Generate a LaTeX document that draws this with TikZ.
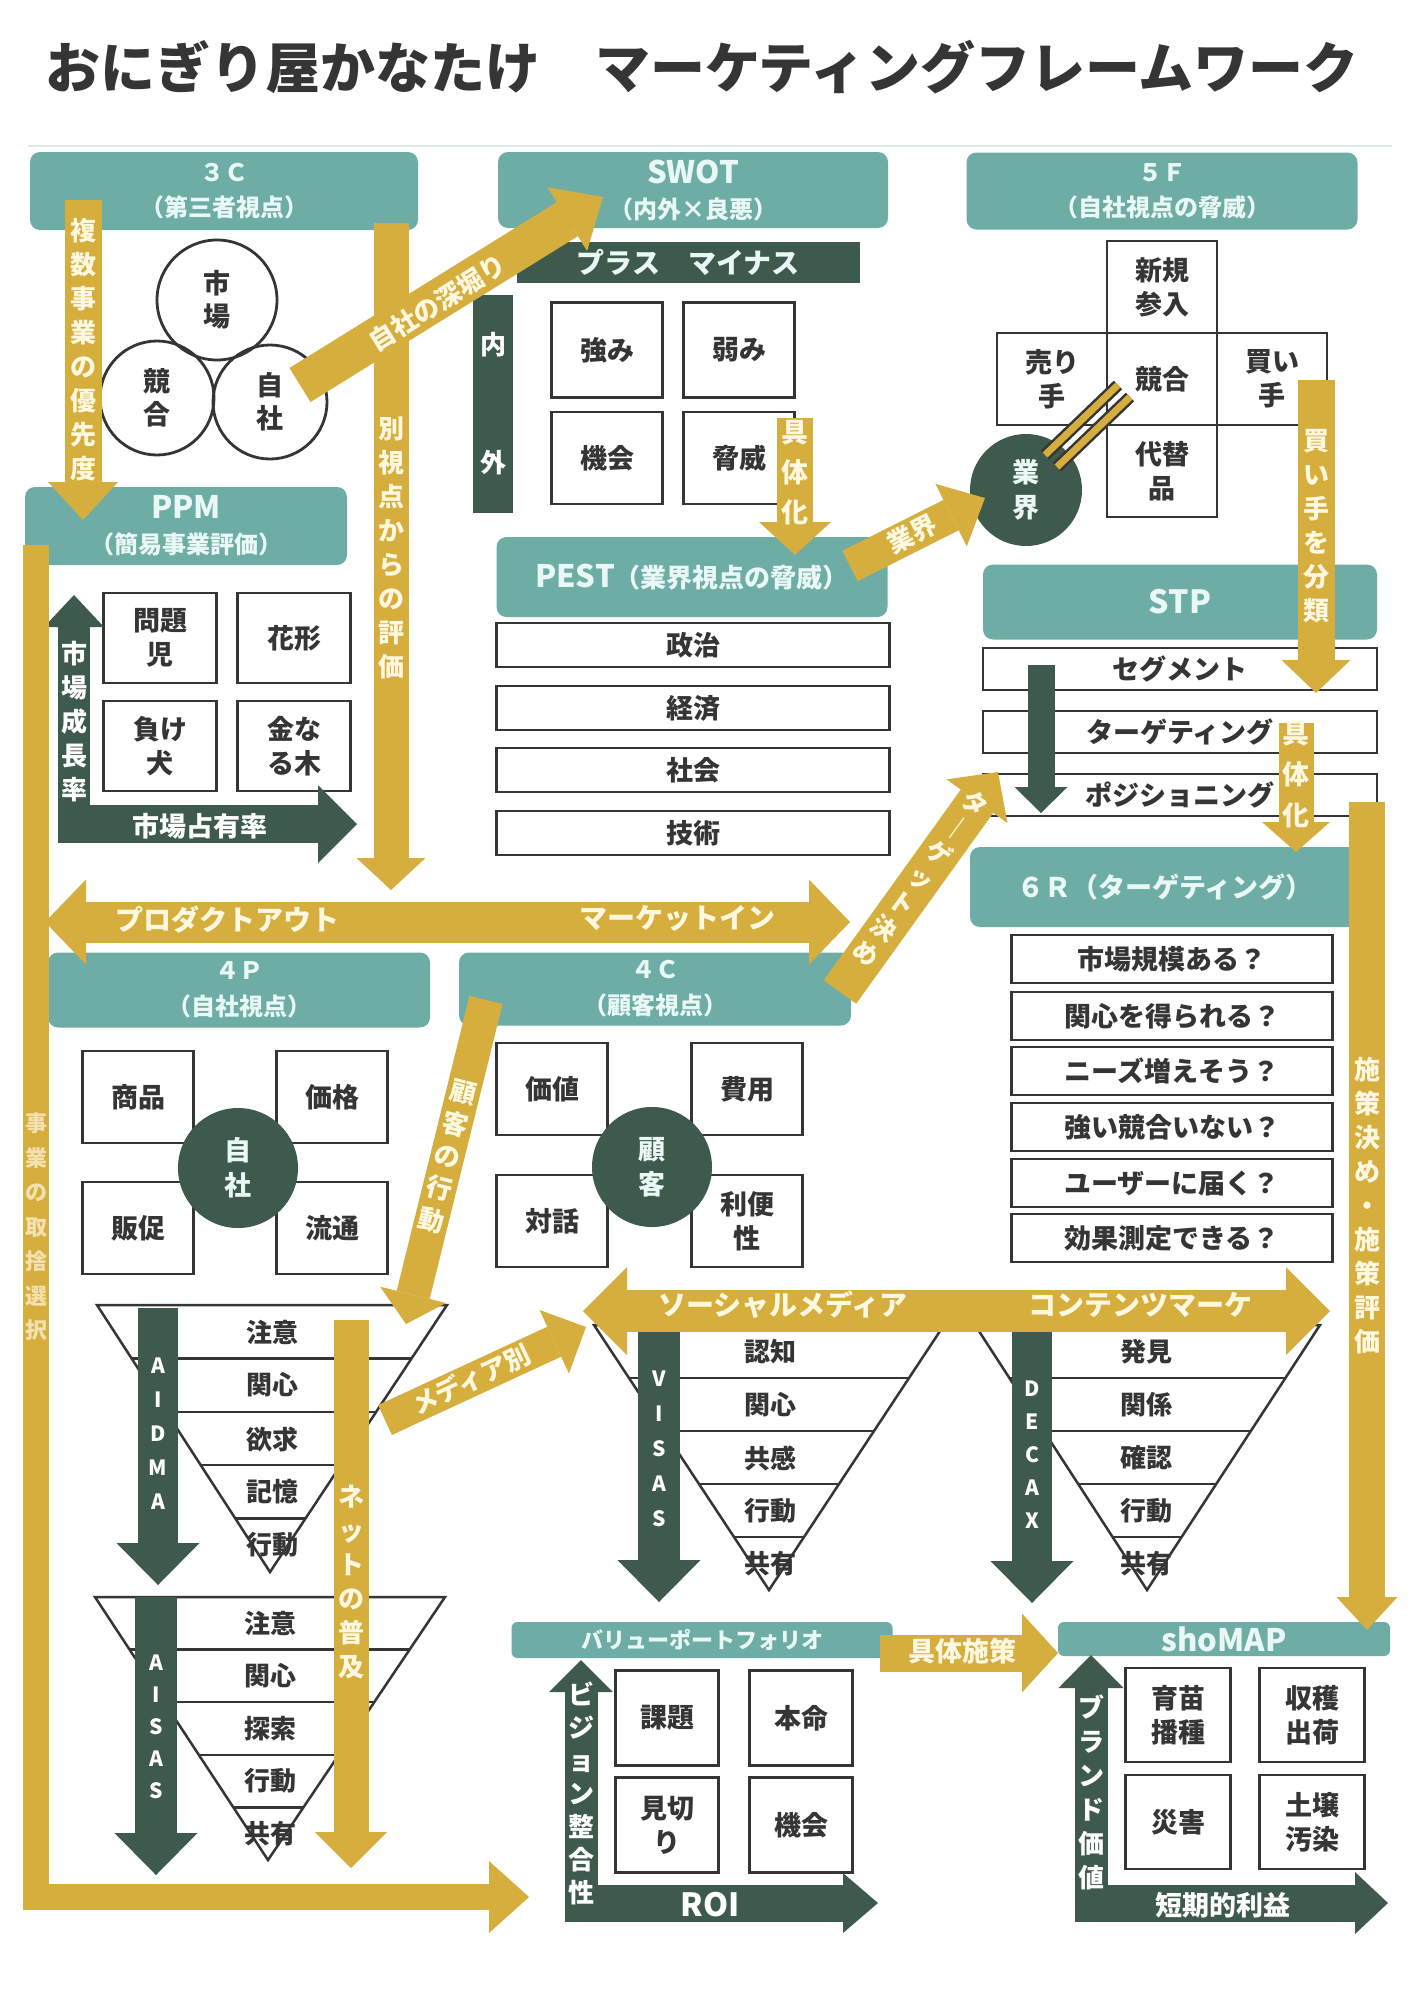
\documentclass[tikz,border=0pt]{standalone}
\usepackage{fontspec}
\setmainfont{Noto Sans CJK JP}
\usetikzlibrary{arrows.meta,calc}
\definecolor{hdrfill}{HTML}{6EADA6}
\definecolor{hdrtext}{HTML}{EAF8F5}
\definecolor{gold}{HTML}{D5AE3E}
\definecolor{goldtext}{HTML}{FFF8E1}
\definecolor{dgreen}{HTML}{3E5A4C}
\definecolor{ink}{HTML}{353535}
\newcommand\bigtag[1]{{\fontsize{31}{35}\selectfont #1}}

\begin{document}
\begin{tikzpicture}[x=1pt,y=-1pt,
	hdr/.style={fill=hdrfill, rounded corners=10pt, text=hdrtext, align=center, inner sep=0pt, font=\bfseries\fontsize{24}{35}\selectfont},
	cell/.style={draw=ink, line width=2.8pt, fill=white, align=center, inner sep=0pt, minimum width=111pt, minimum height=92pt, text=ink, font=\bfseries\fontsize{27}{34}\selectfont},
	rowbox/.style={draw=ink, line width=2.8pt, fill=white, inner sep=0pt, minimum height=44pt, text=ink, font=\bfseries\fontsize{27}{32}\selectfont},
	ring/.style={circle, draw=ink, line width=2.8pt, minimum size=114pt, inner sep=0pt, align=center, text=ink, font=\bfseries\fontsize{27}{33}\selectfont},
	hub/.style={circle, fill=dgreen, minimum size=120pt, inner sep=0pt, align=center, text=hdrtext, font=\bfseries\fontsize{27}{35}\selectfont},
	fun/.style={draw=ink, line width=2.5pt},
	flab/.style={text=ink, font=\bfseries\fontsize{26}{30}\selectfont},
	garrow/.style={draw=gold, line width=36pt, -{Triangle[width=72pt,length=36pt,line width=0pt]}},
	darrow/.style={draw=dgreen, line width=40pt, -{Triangle[width=83pt,length=42pt,line width=0pt]}},
	glab/.style={text=goldtext, align=center, inner sep=0pt, font=\bfseries\fontsize{26}{34}\selectfont},
	dlab/.style={text=white, align=center, inner sep=0pt, font=\bfseries\fontsize{26}{34}\selectfont}]

	\useasboundingbox (0,0) rectangle (1414,2000);
	\fill[white] (0,0) rectangle (1414,2000);

	% Title
	\node[text=ink, font=\bfseries\fontsize{55}{60}\selectfont] (title) at (702,67) {おにぎり屋かなたけ　マーケティングフレームワーク};
	\draw[hdrfill!25, line width=2pt] (28,146) -- (1392,146); % top rule

	% 3C
	\node[hdr, minimum width=388pt, minimum height=78pt] (h3c) at (224,191) {３Ｃ\\（第三者視点）};
	\node[ring, minimum size=120pt] (cMkt) at (217,300) {市\\場};
	\node[ring] (cRiv) at (157,398) {競\\合};
	\node[ring] (cOwn) at (270,402) {自\\社};

	% SWOT
	\node[hdr, minimum width=390pt, minimum height=76pt] (hswot) at (693,190) {\bigtag{SWOT}\\（内外×良悪）};
	\node[fill=dgreen, minimum width=343pt, minimum height=41pt, inner sep=0pt, text=hdrtext, font=\bfseries\fontsize{28}{30}\selectfont] (swPM) at (688,262) {プラス　マイナス};
	\node[fill=dgreen, minimum width=40pt, minimum height=218pt, inner sep=0pt] (swIO) at (493,404) {};
	\node[dlab] (swIn) at (493,345) {内};
	\node[dlab] (swOut) at (493,463) {外};
	\node[cell, minimum height=95pt] (swS) at (607,350) {強み};
	\node[cell, minimum height=95pt] (swW) at (739,350) {弱み};
	\node[cell] (swO) at (607,458) {機会};
	\node[cell] (swT) at (739,458) {脅威};

	% 5F
	\node[hdr, minimum width=391pt, minimum height=77pt] (h5f) at (1162,191) {５Ｆ\\（自社視点の脅威）};
	\node[cell, minimum width=110pt] (fNew) at (1162,287) {新規\\参入};
	\node[cell, minimum width=110pt] (fSup) at (1052,379) {売り\\手};
	\node[cell, minimum width=110pt] (fRiv) at (1162,379) {競合};
	\node[cell, minimum width=110pt] (fBuy) at (1272,379) {買い\\手};
	\node[cell, minimum width=110pt] (fSub) at (1162,471) {代替\\品};
	\node[hub, minimum size=112pt] (cInd) at (1026,490) {業\\界};
	\coordinate (lnkA1) at (1045,455); \coordinate (lnkB1) at (1118,385);
	\coordinate (lnkA2) at (1057,467); \coordinate (lnkB2) at (1130,397);
	\draw[ink, line width=12pt] (lnkA1) -- (lnkB1);
	\draw[gold, line width=7pt] (lnkA1) -- (lnkB1);
	\draw[ink, line width=12pt] (lnkA2) -- (lnkB2);
	\draw[gold, line width=7pt] (lnkA2) -- (lnkB2);

	% PPM
	\node[hdr, minimum width=322pt, minimum height=78pt] (hppm) at (186,526) {\bigtag{PPM}\\（簡易事業評価）};
	\node[cell, minimum width=113pt, minimum height=90pt] (mQ) at (160,638) {問題\\児};
	\node[cell, minimum width=113pt, minimum height=90pt] (mS) at (294,638) {花形};
	\node[cell, minimum width=113pt, minimum height=90pt] (mD) at (160,746) {負け\\犬};
	\node[cell, minimum width=113pt, minimum height=90pt] (mC) at (294,746) {金な\\る木};

	% PEST
	\node[hdr, minimum width=391pt, minimum height=80pt, font=\bfseries\fontsize{26}{30}\selectfont] (hpest) at (692,577) {\bigtag{PEST}（業界視点の脅威）};
	\node[rowbox, minimum width=393pt] (pPol) at (693,645) {政治};
	\node[rowbox, minimum width=393pt] (pEco) at (693,708) {経済};
	\node[rowbox, minimum width=393pt] (pSoc) at (693,770) {社会};
	\node[rowbox, minimum width=393pt] (pTec) at (693,833) {技術};

	% STP
	\node[hdr, minimum width=394pt, minimum height=75pt, font=\bfseries\fontsize{32}{34}\selectfont] (hstp) at (1180,602) {STP};
	\node[rowbox, minimum width=394pt, minimum height=42pt] (sSeg) at (1180,669) {セグメント};
	\node[rowbox, minimum width=394pt, minimum height=42pt] (sTgt) at (1180,732) {ターゲティング};
	\node[rowbox, minimum width=394pt, minimum height=42pt] (sPos) at (1180,795) {ポジショニング};

	% 6R
	\node[hdr, minimum width=390pt, minimum height=80pt, font=\bfseries\fontsize{27}{30}\selectfont] (h6r) at (1165,887) {６Ｒ（ターゲティング）};
	\node[rowbox, minimum width=321pt, minimum height=48pt] (r1) at (1172,959) {市場規模ある？};
	\node[rowbox, minimum width=321pt, minimum height=48pt] (r2) at (1172,1016) {関心を得られる？};
	\node[rowbox, minimum width=321pt, minimum height=48pt] (r3) at (1172,1071) {ニーズ増えそう？};
	\node[rowbox, minimum width=321pt, minimum height=48pt] (r4) at (1172,1127) {強い競合いない？};
	\node[rowbox, minimum width=321pt, minimum height=48pt] (r5) at (1172,1183) {ユーザーに届く？};
	\node[rowbox, minimum width=321pt, minimum height=48pt] (r6) at (1172,1238) {効果測定できる？};

	% 4P
	\node[hdr, minimum width=382pt, minimum height=75pt, font=\bfseries\fontsize{24}{36}\selectfont] (h4p) at (239,990) {４Ｐ\\（自社視点）};
	\node[cell] (pGood) at (138,1097) {商品};
	\node[cell] (pPrice) at (332,1097) {価格};
	\node[cell] (pProm) at (138,1228) {販促};
	\node[cell] (pPlace) at (332,1228) {流通};
	\node[hub] (cSelf) at (238,1168) {自\\社};

	% 4C
	\node[hdr, minimum width=392pt, minimum height=73pt, font=\bfseries\fontsize{24}{36}\selectfont] (h4c) at (655,989) {４Ｃ\\（顧客視点）};
	\node[cell] (cVal) at (552,1089) {価値};
	\node[cell] (cCost) at (747,1089) {費用};
	\node[cell] (cComm) at (552,1221) {対話};
	\node[cell] (cConv) at (747,1221) {利便\\性};
	\node[hub] (cCust) at (652,1167) {顧\\客};

	% Funnels
	\coordinate (aTL) at (97,1305); \coordinate (aTR) at (447,1305); \coordinate (aAp) at (270,1572);
	\draw[fun] (aTL) -- (aTR) -- (aAp) -- cycle;
	\foreach \f in {0.2,0.4,0.6,0.8} \draw[fun] ($(aTL)!\f!(aAp)$) -- ($(aTR)!\f!(aAp)$);
	\node[flab] (aL1) at (272,1332) {注意};
	\node[flab] (aL2) at (272,1385) {関心};
	\node[flab] (aL3) at (272,1439) {欲求};
	\node[flab] (aL4) at (272,1492) {記憶};
	\node[flab] (aL5) at (272,1545) {行動};

	\coordinate (bTL) at (95,1597); \coordinate (bTR) at (445,1597); \coordinate (bAp) at (268,1860);
	\draw[fun] (bTL) -- (bTR) -- (bAp) -- cycle;
	\foreach \f in {0.2,0.4,0.6,0.8} \draw[fun] ($(bTL)!\f!(bAp)$) -- ($(bTR)!\f!(bAp)$);
	\node[flab] (bL1) at (270,1623) {注意};
	\node[flab] (bL2) at (270,1676) {関心};
	\node[flab] (bL3) at (270,1729) {探索};
	\node[flab] (bL4) at (270,1781) {行動};
	\node[flab] (bL5) at (270,1834) {共有};

	\coordinate (vTL) at (594,1325); \coordinate (vTR) at (944,1325); \coordinate (vAp) at (769,1590);
	\draw[fun] (vTL) -- (vTR) -- (vAp) -- cycle;
	\foreach \f in {0.2,0.4,0.6,0.8} \draw[fun] ($(vTL)!\f!(vAp)$) -- ($(vTR)!\f!(vAp)$);
	\node[flab] (vL1) at (770,1352) {認知};
	\node[flab] (vL2) at (770,1405) {関心};
	\node[flab] (vL3) at (770,1458) {共感};
	\node[flab] (vL4) at (770,1511) {行動};
	\node[flab] (vL5) at (770,1564) {共有};

	\coordinate (dTL) at (975,1325); \coordinate (dTR) at (1320,1325); \coordinate (dAp) at (1147,1590);
	\draw[fun] (dTL) -- (dTR) -- (dAp) -- cycle;
	\foreach \f in {0.2,0.4,0.6,0.8} \draw[fun] ($(dTL)!\f!(dAp)$) -- ($(dTR)!\f!(dAp)$);
	\node[flab] (dL1) at (1146,1352) {発見};
	\node[flab] (dL2) at (1146,1405) {関係};
	\node[flab] (dL3) at (1146,1458) {確認};
	\node[flab] (dL4) at (1146,1511) {行動};
	\node[flab] (dL5) at (1146,1564) {共有};

	% Value portfolio and shoMAP
	\node[hdr, rounded corners=6pt, minimum width=381pt, minimum height=36pt, font=\bfseries\fontsize{22}{24}\selectfont] (hvp) at (702,1640) {バリューポートフォリオ};
	\node[cell, minimum width=103pt, minimum height=95pt] (vIss) at (667,1718) {課題};
	\node[cell, minimum width=103pt, minimum height=95pt] (vMain) at (801,1718) {本命};
	\node[cell, minimum width=103pt, minimum height=95pt] (vCut) at (667,1825) {見切\\り};
	\node[cell, minimum width=103pt, minimum height=95pt] (vOpp) at (801,1825) {機会};

	\node[hdr, rounded corners=6pt, minimum width=332pt, minimum height=34pt, font=\bfseries\fontsize{31}{32}\selectfont] (hsho) at (1224,1639) {shoMAP};
	\node[cell, minimum width=105pt, minimum height=94pt] (smSeed) at (1178,1715) {育苗\\播種};
	\node[cell, minimum width=105pt, minimum height=94pt] (smHarv) at (1312,1715) {収穫\\出荷};
	\node[cell, minimum width=105pt, minimum height=94pt] (smDis) at (1178,1822) {災害};
	\node[cell, minimum width=105pt, minimum height=94pt] (smSoil) at (1312,1822) {土壌\\汚染};

	% Dark arrows
	\coordinate (ppmO) at (74,843); \coordinate (ppmY) at (74,595);
	\coordinate (ppmO2) at (58,824); \coordinate (ppmX) at (357,824);
	\draw[darrow, line width=32pt, -{Triangle[width=60pt,length=32pt,line width=0pt]}] (ppmO) -- (ppmY);
	\draw[darrow, line width=38pt, -{Triangle[width=78pt,length=39pt,line width=0pt]}] (ppmO2) -- (ppmX);
	\node[dlab] (ppmYt) at (74,722) {市\\場\\成\\長\\率};
	\node[dlab, font=\bfseries\fontsize{27}{30}\selectfont] (ppmXt) at (200,826) {市場占有率};

	\coordinate (stpA) at (1041,665); \coordinate (stpB) at (1041,813);
	\draw[darrow, line width=27pt, -{Triangle[width=53pt,length=26pt,line width=0pt]}] (stpA) -- (stpB);

	\coordinate (aidA) at (158,1308); \coordinate (aidB) at (158,1585);
	\draw[darrow] (aidA) -- (aidB);
	\node[dlab, font=\bfseries\fontsize{21}{34}\selectfont] (aidT) at (158,1434) {A\\I\\D\\M\\A};
	\coordinate (aisA) at (156,1597); \coordinate (aisB) at (156,1875);
	\draw[darrow, line width=42pt] (aisA) -- (aisB);
	\node[dlab, font=\bfseries\fontsize{21}{32}\selectfont] (aisT) at (156,1727) {A\\I\\S\\A\\S};
	\coordinate (visA) at (659,1330); \coordinate (visB) at (659,1602);
	\draw[darrow, line width=42pt] (visA) -- (visB);
	\node[dlab, font=\bfseries\fontsize{21}{35}\selectfont] (visT) at (659,1449) {V\\I\\S\\A\\S};
	\coordinate (decA) at (1032,1330); \coordinate (decB) at (1032,1603);
	\draw[darrow] (decA) -- (decB);
	\node[dlab, font=\bfseries\fontsize{21}{33}\selectfont] (decT) at (1032,1455) {D\\E\\C\\A\\X};

	\coordinate (vpO) at (581,1922); \coordinate (vpY) at (581,1660);
	\coordinate (vpO2) at (565,1903); \coordinate (vpX) at (878,1903);
	\draw[darrow, line width=33pt, -{Triangle[width=64pt,length=32pt,line width=0pt]}] (vpO) -- (vpY);
	\draw[darrow, line width=37pt, -{Triangle[width=60pt,length=35pt,line width=0pt]}] (vpO2) -- (vpX);
	\node[dlab, font=\bfseries\fontsize{26}{33}\selectfont] (vpYt) at (581,1793) {ビ\\ジ\\ョ\\ン\\整\\合\\性};
	\node[dlab, font=\bfseries\fontsize{32}{34}\selectfont] (vpXt) at (710,1905) {ROI};

	\coordinate (smO) at (1091,1922); \coordinate (smY) at (1091,1655);
	\coordinate (smO2) at (1075,1903); \coordinate (smX) at (1388,1903);
	\draw[darrow, line width=33pt, -{Triangle[width=65pt,length=33pt,line width=0pt]}] (smO) -- (smY);
	\draw[darrow, line width=37pt, -{Triangle[width=62pt,length=33pt,line width=0pt]}] (smO2) -- (smX);
	\node[dlab] (smYt) at (1091,1792) {ブ\\ラ\\ン\\ド\\価\\値};
	\node[dlab, font=\bfseries\fontsize{27}{30}\selectfont] (smXt) at (1223,1905) {短期的利益};

	% Gold arrows
	\coordinate (g1a) at (83,200); \coordinate (g1b) at (83,520);
	\draw[garrow, line width=37pt, -{Triangle[width=70pt,length=38pt,line width=0pt]}] (g1a) -- (g1b);
	\node[glab] (g1t) at (83,350) {複\\数\\事\\業\\の\\優\\先\\度};

	\coordinate (g2a) at (391,223); \coordinate (g2b) at (391,890);
	\draw[garrow, line width=35pt, -{Triangle[width=69pt,length=32pt,line width=0pt]}] (g2a) -- (g2b);
	\node[glab] (g2t) at (391,548) {別\\視\\点\\か\\ら\\の\\評\\価};

	\coordinate (g3a) at (300,385); \coordinate (g3b) at (603,197);
	\draw[garrow, line width=40pt, -{Triangle[width=75pt,length=42pt,line width=0pt]}] (g3a) -- (g3b);
	\node[glab, rotate=32] (g3t) at (437,303) {自社の深堀り};

	\coordinate (g4a) at (795,418); \coordinate (g4b) at (795,555);
	\draw[garrow, line width=36pt, -{Triangle[width=72pt,length=33pt,line width=0pt]}] (g4a) -- (g4b);
	\node[glab, font=\bfseries\fontsize{27}{40}\selectfont] (g4t) at (795,473) {具\\体\\化};

	\coordinate (g5a) at (850,566); \coordinate (g5b) at (985,498);
	\draw[garrow, line width=34pt, -{Triangle[width=70pt,length=38pt,line width=0pt]}] (g5a) -- (g5b);
	\node[glab, rotate=27] (g5t) at (912,534) {業界};

	\coordinate (g6a) at (1316,380); \coordinate (g6b) at (1316,693);
	\draw[garrow, line width=37pt, -{Triangle[width=69pt,length=33pt,line width=0pt]}] (g6a) -- (g6b);
	\node[glab] (g6t) at (1316,526) {買\\い\\手\\を\\分\\類};

	\coordinate (g7a) at (1296,723); \coordinate (g7b) at (1296,852);
	\draw[garrow, line width=35pt, -{Triangle[width=68pt,length=30pt,line width=0pt]}] (g7a) -- (g7b);
	\node[glab, font=\bfseries\fontsize{27}{41}\selectfont] (g7t) at (1296,775) {具\\体\\化};

	\coordinate (g8a) at (1367,802); \coordinate (g8b) at (1367,1630);
	\draw[garrow, line width=36pt, -{Triangle[width=61pt,length=33pt,line width=0pt]}] (g8a) -- (g8b);
	\node[glab] (g8t) at (1367,1206) {施\\策\\決\\め\\・\\施\\策\\評\\価};

	\coordinate (g9a) at (36,545); \coordinate (g9b) at (529,1897);
	\draw[garrow, line width=26pt, -{Triangle[width=72pt,length=40pt,line width=0pt]}] (g9a) |- (g9b);
	\node[glab, text=goldtext!70!gold, font=\bfseries\fontsize{22}{34.5}\selectfont] (g9t) at (36,1227) {事\\業\\の\\取\\捨\\選\\択};

	\coordinate (g10a) at (45,922); \coordinate (g10b) at (850,922);
	\draw[garrow, line width=41pt, {Triangle[width=85pt,length=41pt,line width=0pt]}-{Triangle[width=85pt,length=41pt,line width=0pt]}] (g10a) -- (g10b);
	\node[glab, font=\bfseries\fontsize{28}{30}\selectfont] (g10t1) at (227,920) {プロダクトアウト};
	\node[glab, font=\bfseries\fontsize{28}{30}\selectfont] (g10t2) at (677,918) {マーケットイン};

	\coordinate (g11a) at (486,1000); \coordinate (g11b) at (406,1324);
	\draw[garrow, line width=34pt, -{Triangle[width=68pt,length=30pt,line width=0pt]}] (g11a) -- (g11b);
	\node[glab, rotate=-14, font=\bfseries\fontsize{26}{33}\selectfont] (g11t) at (447,1157) {顧\\客\\の\\行\\動};

	\coordinate (g12a) at (840,992); \coordinate (g12b) at (998,772);
	\draw[garrow, line width=40pt, -{Triangle[width=75pt,length=36pt,line width=0pt]}] (g12a) -- (g12b);
	\node[glab, rotate=-36, font=\bfseries\fontsize{25}{31}\selectfont] (g12t) at (921,878) {タ\\｜\\ゲ\\ッ\\ト\\決\\め};

	\coordinate (g13a) at (385,1420); \coordinate (g13b) at (586,1327);
	\draw[garrow, line width=33pt, -{Triangle[width=70pt,length=35pt,line width=0pt]}] (g13a) -- (g13b);
	\node[glab, rotate=25] (g13t) at (471,1379) {メディア別};

	\coordinate (g14a) at (583,1311); \coordinate (g14b) at (1330,1311);
	\draw[garrow, line width=42pt, {Triangle[width=88pt,length=44pt,line width=0pt]}-{Triangle[width=88pt,length=44pt,line width=0pt]}] (g14a) -- (g14b);
	\node[glab, font=\bfseries\fontsize{28}{30}\selectfont] (g14t1) at (783,1305) {ソーシャルメディア};
	\node[glab, font=\bfseries\fontsize{28}{30}\selectfont] (g14t2) at (1140,1305) {コンテンツマーケ};

	\coordinate (g15a) at (351,1320); \coordinate (g15b) at (351,1868);
	\draw[garrow, line width=35pt] (g15a) -- (g15b);
	\node[glab] (g15t) at (351,1582) {ネ\\ッ\\ト\\の\\普\\及};

	\coordinate (g16a) at (880,1653); \coordinate (g16b) at (1058,1653);
	\draw[garrow, line width=37pt, -{Triangle[width=79pt,length=36pt,line width=0pt]}] (g16a) -- (g16b);
	\node[glab, font=\bfseries\fontsize{27}{30}\selectfont] (g16t) at (962,1651) {具体施策};
\end{tikzpicture}
\end{document}
